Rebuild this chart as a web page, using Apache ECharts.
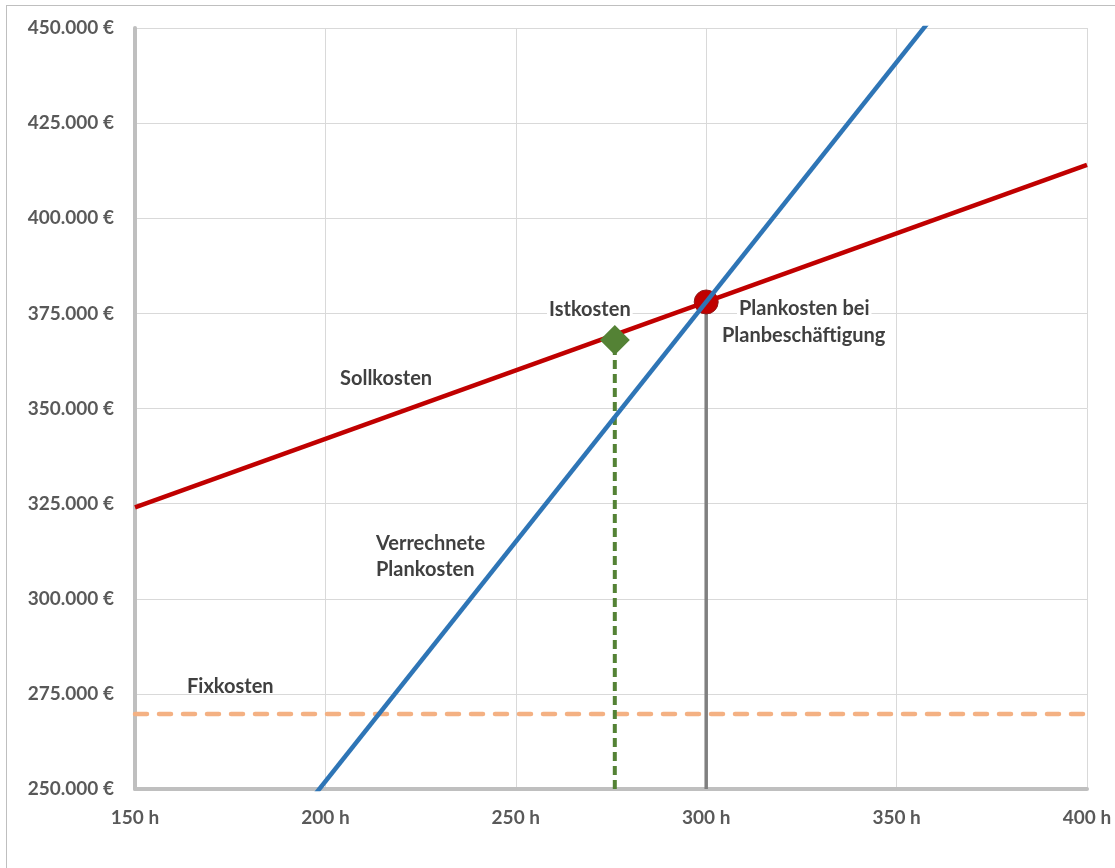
<!DOCTYPE html>
<html>
<head>
<meta charset="utf-8">
<script src="https://cdn.jsdelivr.net/npm/echarts@6/dist/echarts.min.js"></script>
<style>
  html, body { margin: 0; padding: 0; background: #fff; }
  #frame { position: absolute; left: 6px; top: 5px; width: 1115px; height: 870px; border-top: 1px solid #bfbfbf; border-left: 1px solid #bfbfbf; box-sizing: border-box; }
  #chart { position: absolute; left: 0; top: 0; width: 1115px; height: 868px; }
</style>
</head>
<body>
<div id="frame"></div>
<div id="chart"></div>
<script>
// Stunden (x) und Kosten (y)
const hours = [150, 400];
const fixkosten = [269700, 269700];
const sollkosten = [324000, 414000];
const verrechnetePlankosten = [189000, 504000];
const istkosten = [276, 368000];
const plankosten = [300, 378000];
const yBase = 250000;
const xTicks = [150, 200, 250, 300, 350, 400];
const yTicks = [250000, 275000, 300000, 325000, 350000, 375000, 400000, 425000, 450000];

const font = 'Lato, "Open Sans", sans-serif';
const pairs = (ys) => hours.map((h, i) => [h, ys[i]]);
const euro = (v) => v.toLocaleString('de-DE') + ' €';
const labelFont = 'bold 20px ' + font;

// Beschriftung mit weißem Hintergrund (verdeckt Gitterlinien wie im Original)
const label = (text, left, top, bg) => ({
  type: 'text', left, top, z: 10,
  style: { text, font: labelFont, fill: '#404040', backgroundColor: bg ? '#fff' : 'transparent', padding: [0, 2] }
});

const chart = echarts.init(document.getElementById('chart'));

chart.setOption({
  animation: false,
  grid: { left: 135, right: 28, top: 28, bottom: 79 },
  xAxis: {
    type: 'value',
    min: xTicks[0], max: xTicks[xTicks.length - 1], interval: 50,
    axisLine: { onZero: false, lineStyle: { color: '#bfbfbf', width: 4 } },
    axisTick: { show: false },
    axisLabel: { formatter: (v) => v + ' h', color: '#595959', fontWeight: 'bold', fontSize: 19, fontFamily: font, margin: 19 },
    splitLine: { lineStyle: { color: '#d9d9d9', width: 1 } }
  },
  yAxis: {
    type: 'value',
    min: yTicks[0], max: yTicks[yTicks.length - 1], interval: 25000,
    axisLine: { show: true, onZero: false, lineStyle: { color: '#bfbfbf', width: 4 } },
    axisTick: { show: false },
    axisLabel: { formatter: euro, color: '#595959', fontWeight: 'bold', fontSize: 19, fontFamily: font, margin: 21 },
    splitLine: { lineStyle: { color: '#d9d9d9', width: 1 } }
  },
  series: [
    {
      name: 'Fixkosten', type: 'line', symbol: 'none', z: 2,
      data: pairs(fixkosten),
      lineStyle: { color: '#f4b183', width: 4.5, type: [12, 12], cap: 'round' }
    },
    {
      name: 'Planpunkt', type: 'scatter', z: 3,
      data: [plankosten],
      symbol: 'circle', symbolSize: 24,
      itemStyle: { color: '#c00000', borderColor: '#8f1a1a', borderWidth: 1, opacity: 1 }
    },
    {
      name: 'Plan-Lot', type: 'line', symbol: 'none', z: 3,
      data: [[plankosten[0], yBase], plankosten],
      lineStyle: { color: '#808080', width: 3.5 }
    },
    {
      name: 'Ist-Lot', type: 'line', symbol: 'none', z: 3,
      data: [[istkosten[0], yBase], istkosten],
      lineStyle: { color: '#548235', width: 4, type: [9, 5] }
    },
    {
      name: 'Sollkosten', type: 'line', symbol: 'none', z: 4,
      data: pairs(sollkosten),
      lineStyle: { color: '#c00000', width: 4.5 }
    },
    {
      name: 'Verrechnete Plankosten', type: 'line', symbol: 'none', z: 5, clip: true,
      data: pairs(verrechnetePlankosten),
      lineStyle: { color: '#2e75b6', width: 4.5 }
    },
    {
      name: 'Istkosten', type: 'scatter', z: 6,
      data: [istkosten],
      symbol: 'diamond', symbolSize: [30, 30],
      itemStyle: { color: '#548235', opacity: 1 }
    }
  ],
  graphic: [
    label('Sollkosten', 338, 369, true),
    label('Verrechnete', 374, 534, true),
    label('Plankosten', 374, 560, true),
    label('Istkosten', 547, 300, true),
    label('Plankosten bei', 737, 299, true),
    label('Planbeschäftigung', 720, 326, true),
    label('Fixkosten', 185, 677, false)
  ]
});
</script>
</body>
</html>
